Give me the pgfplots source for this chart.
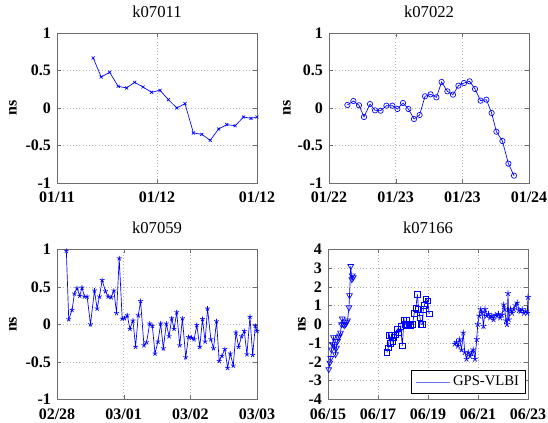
\documentclass[border=0pt]{standalone}
\usepackage{pgfplots}
\pgfplotsset{compat=1.18}
\usepackage{fontspec}
\setmainfont{Liberation Serif}
\definecolor{LineBlue}{RGB}{110,110,255}
\definecolor{FrameGray}{RGB}{110,110,110}

\pgfplotsset{
  mlab/.style={
    scale only axis,
    width=150pt, height=112.5pt,
    anchor=north west,
    axis line style={FrameGray},
    tick style={FrameGray},
    tick align=inside,
    major tick length=3pt,
    grid=major,
    grid style={dotted, gray!60},
    /pgf/number format/assume math mode=true,
    tick label style={font=\fontsize{12}{14}\selectfont\bfseries, text=black},
    yticklabel style={xshift=-1pt},
    title style={font=\fontsize{12.5}{14}\selectfont, at={(0.5,1)}, anchor=south, yshift=2pt},
    ylabel={ns},
    ylabel style={font=\fontsize{12}{14}\selectfont\bfseries, anchor=center},
    every axis plot/.append style={color=LineBlue, line width=0.5pt, mark size=1.8pt},
  },
  toprow/.style={xticklabel style={yshift=-3pt}},
  bottomrow/.style={xticklabel style={yshift=-3.5pt}},
}

\begin{document}
\begin{tikzpicture}
\useasboundingbox (0,0) rectangle (411pt,-317.25pt);

% k07011
\begin{axis}[mlab, toprow, at={(42.75pt,-24.75pt)}, title={k07011},
  xmin=0, xmax=1, ymin=-1, ymax=1,
  xtick={0,0.5,1}, xticklabels={01/11,01/12,01/12},
  ytick={-1,-0.5,0,0.5,1}, yticklabels={-1,-0.5,0,0.5,1},
  ylabel style={at={(axis description cs:-0.22,0.5)}}]
\addplot+[mark=x, mark size=1.6pt] coordinates {
(0.181,0.667) (0.221,0.413) (0.263,0.476) (0.306,0.289) (0.348,0.267)
(0.388,0.342) (0.430,0.280) (0.473,0.209) (0.515,0.236) (0.557,0.111)
(0.599,0.000) (0.640,0.058) (0.682,-0.333) (0.724,-0.351) (0.766,-0.431)
(0.808,-0.280) (0.849,-0.222) (0.891,-0.236) (0.933,-0.120) (0.970,-0.138)
(1.000,-0.120)};
\end{axis}

% k07022
\begin{axis}[mlab, toprow, at={(246.75pt,-24.75pt)}, title={k07022},
  xmin=0, xmax=1, ymin=-1, ymax=1,
  xtick={0,0.3333,0.6667,1}, xticklabels={01/22,01/23,01/23,01/24},
  ytick={-1,-0.5,0,0.5,1}, yticklabels={-1,-0.5,0,0.5,1},
  ylabel style={at={(axis description cs:-0.21,0.5)}}]
\addplot+[mark=o, mark size=2pt] coordinates {
(0.092,0.040) (0.122,0.093) (0.150,0.036) (0.175,-0.120) (0.205,0.053)
(0.230,-0.031) (0.258,-0.036) (0.287,0.031) (0.317,0.031) (0.342,-0.013)
(0.370,0.067) (0.397,-0.013) (0.425,-0.147) (0.453,-0.093) (0.480,0.156)
(0.508,0.182) (0.537,0.142) (0.563,0.347) (0.592,0.222) (0.620,0.178)
(0.647,0.298) (0.675,0.333) (0.703,0.356) (0.730,0.253) (0.758,0.098)
(0.787,0.111) (0.813,-0.067) (0.837,-0.316) (0.867,-0.440) (0.897,-0.742)
(0.925,-0.902)};
\end{axis}

% k07059
\begin{axis}[mlab, bottomrow, at={(42.75pt,-187pt)}, title={k07059},
  xmin=0, xmax=3, ymin=-1, ymax=1,
  xtick={0,1,2,3}, xticklabels={02/28,03/01,03/02,03/03},
  ytick={-1,-0.5,0,0.5,1}, yticklabels={-1,-0.5,0,0.5,1},
  ylabel style={at={(axis description cs:-0.22,0.5)}}]
\addplot+[mark=star, mark size=1.9pt] coordinates {
(0.140,0.98) (0.176,0.067) (0.226,0.19) (0.261,0.41) (0.301,0.48)
(0.341,0.38) (0.376,0.49) (0.411,0.37) (0.452,0.37) (0.502,0.00)
(0.562,0.45) (0.602,0.21) (0.637,0.37) (0.677,0.59) (0.727,0.44)
(0.768,0.37) (0.813,0.36) (0.853,0.45) (0.893,0.15) (0.933,0.88)
(0.978,0.075) (1.013,0.08) (1.054,0.12) (1.094,-0.06) (1.139,0.05)
(1.179,-0.30) (1.219,0.12) (1.254,0.31) (1.304,-0.28) (1.344,-0.24)
(1.390,0.01) (1.430,-0.02) (1.470,-0.39) (1.515,-0.23) (1.555,0.01)
(1.595,-0.32) (1.640,0.01) (1.681,-0.16) (1.721,0.08) (1.756,-0.06)
(1.796,0.16) (1.841,-0.28) (1.881,0.08) (1.931,-0.44) (1.972,-0.17)
(2.017,-0.18) (2.057,-0.20) (2.097,-0.01) (2.142,-0.30) (2.182,0.07)
(2.222,-0.23) (2.258,0.21) (2.308,-0.20) (2.348,-0.32) (2.393,0.04)
(2.433,-0.49) (2.473,-0.42) (2.518,-0.33) (2.559,-0.58) (2.599,-0.39)
(2.644,-0.55) (2.684,-0.11) (2.724,-0.30) (2.769,-0.16) (2.809,-0.09)
(2.849,-0.40) (2.894,0.10) (2.935,-0.41) (2.975,-0.02) (3.000,-0.09)};
\end{axis}

% k07166
\begin{axis}[mlab, bottomrow, at={(246pt,-187pt)}, title={k07166},
  xmin=0, xmax=8, ymin=-4, ymax=4,
  xtick={0,2,4,6,8}, xticklabels={06/15,06/17,06/19,06/21,06/23},
  ytick={-4,-3,-2,-1,0,1,2,3,4}, yticklabels={-4,-3,-2,-1,0,1,2,3,4},
  ylabel style={at={(axis description cs:-0.13,0.5)}},
  legend style={at={(0.99,0.04)}, anchor=south east, draw=black, fill=white,
    font=\fontsize{11}{13}\selectfont, inner xsep=3pt, inner ysep=2pt},
  legend image code/.code={\draw[LineBlue, line width=0.5pt] (0cm,0cm) -- (0.9cm,0cm);}]
\addlegendimage{color=LineBlue, no markers, line width=0.5pt}
\addlegendentry{GPS-VLBI}
\addplot+[mark=triangle, mark options={rotate=180}, mark size=2.5pt, forget plot] coordinates {
(0.03,-2.40) (0.07,-2.05) (0.11,-1.80) (0.14,-1.35) (0.18,-1.05)
(0.22,-0.70) (0.26,-1.15) (0.30,-1.60) (0.34,-1.25) (0.38,-0.90)
(0.41,-0.70) (0.46,-0.60) (0.50,-0.45) (0.54,0.00) (0.57,0.30)
(0.61,0.00) (0.65,-0.05) (0.70,0.00) (0.74,0.10) (0.78,0.20)
(0.84,0.90) (0.86,1.55) (0.91,3.10) (0.95,2.40) (0.97,2.60) (1.01,2.50)};
\addplot+[mark=square, mark size=2.1pt, forget plot] coordinates {
(2.36,-1.50) (2.41,-1.25) (2.46,-0.60) (2.50,-1.00) (2.54,-0.55)
(2.59,-0.90) (2.64,-0.70) (2.70,-0.55) (2.77,-0.25) (2.84,-0.45)
(2.91,-0.10) (2.97,-1.15) (3.04,0.25) (3.08,0.00) (3.14,0.25)
(3.18,-0.05) (3.24,0.00) (3.31,-0.05) (3.38,0.00) (3.45,0.60)
(3.51,0.85) (3.58,1.60) (3.62,0.80) (3.68,0.35) (3.72,0.00)
(3.78,0.00) (3.81,0.80) (3.85,1.00) (3.92,1.35) (3.99,1.25) (4.05,0.55)};
\addplot+[mark=star, mark size=2.3pt, forget plot] coordinates {
(5.07,-1.05) (5.14,-0.95) (5.20,-1.15) (5.27,-0.80) (5.34,-1.35)
(5.41,-0.45) (5.47,-1.50) (5.54,-1.85) (5.61,-1.50) (5.68,-1.70)
(5.74,-1.55) (5.81,-1.35) (5.88,-1.85) (5.95,-0.80) (5.99,0.00)
(6.05,0.45) (6.11,0.80) (6.16,0.60) (6.22,-0.10) (6.28,0.80)
(6.35,0.45) (6.42,0.55) (6.49,0.35) (6.55,0.45) (6.62,0.25)
(6.69,0.50) (6.76,0.45) (6.82,0.55) (6.89,0.35) (6.96,0.50)
(7.03,1.05) (7.07,0.80) (7.12,0.20) (7.16,0.00) (7.20,1.65)
(7.23,0.25) (7.30,0.80) (7.36,0.60) (7.43,0.80) (7.50,1.00)
(7.57,1.15) (7.64,0.75) (7.70,0.70) (7.77,0.80) (7.84,0.60)
(7.91,0.70) (7.97,0.60) (8.00,1.45)};
\end{axis}
\end{tikzpicture}
\end{document}
